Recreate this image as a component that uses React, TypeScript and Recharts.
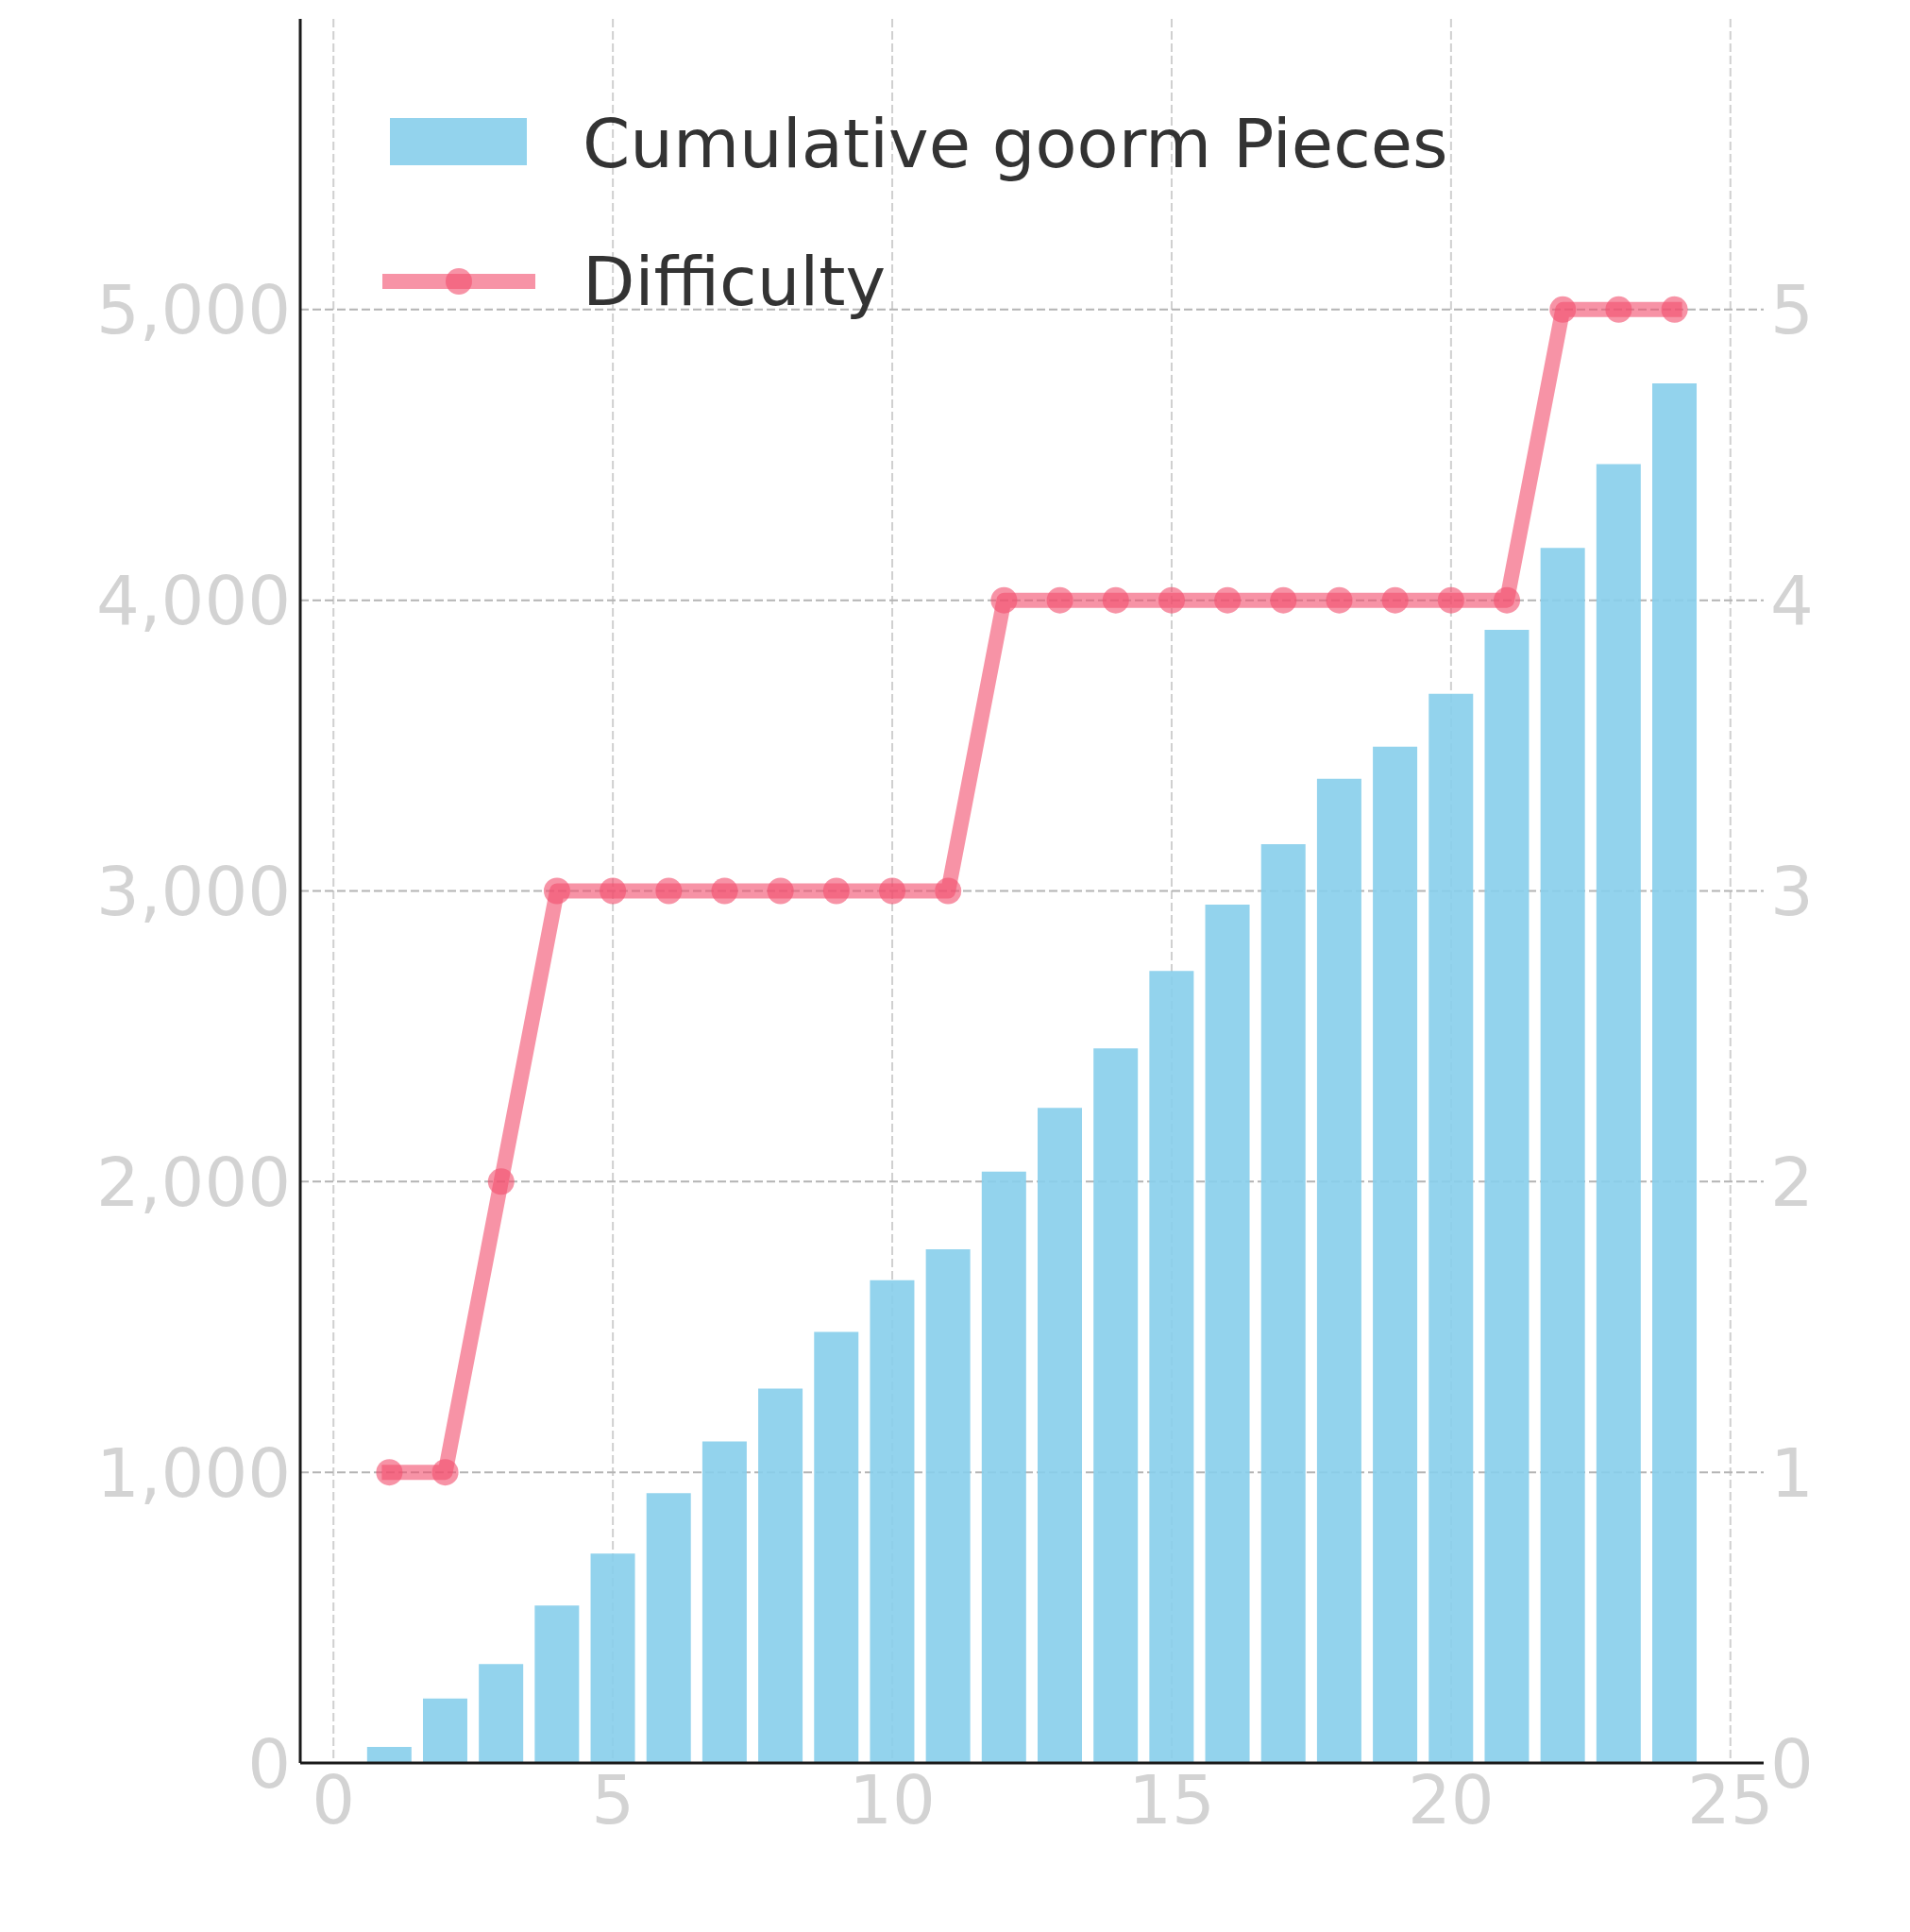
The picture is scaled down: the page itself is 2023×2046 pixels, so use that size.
import React from "react";
import {
  ComposedChart,
  Bar,
  Line,
  XAxis,
  YAxis,
  CartesianGrid,
  Legend,
} from "recharts";

const levels = [1, 2, 3, 4, 5, 6, 7, 8, 9, 10, 11, 12, 13, 14, 15, 16, 17, 18, 19, 20, 21, 22, 23, 24];
const cumulativePieces = [55, 222, 340, 542, 720, 928, 1106, 1288, 1483, 1661, 1767, 2034, 2254, 2458, 2725, 2953, 3161, 3386, 3496, 3678, 3898, 4180, 4468, 4746];
const difficulty = [1, 1, 2, 3, 3, 3, 3, 3, 3, 3, 3, 4, 4, 4, 4, 4, 4, 4, 4, 4, 4, 5, 5, 5];

const xTicks = [0, 5, 10, 15, 20, 25];
const leftTicks = [0, 1000, 2000, 3000, 4000, 5000];
const rightTicks = [0, 1, 2, 3, 4, 5];
const gridYValues = [1000, 2000, 3000, 4000, 5000];
const seriesNames = ["Cumulative goorm Pieces", "Difficulty"];

const data = levels.map((x, i) => ({
  x,
  pieces: cumulativePieces[i],
  difficulty: difficulty[i],
}));

const BAR_COLOR = "#87CEEB";
const BAR_OPACITY = 0.9;
const LINE_COLOR = "#F2506F";
const LINE_OPACITY = 0.62;
const FONT = "DejaVu Sans";
const tickStyle = { fill: "#d3d3d3", fontSize: 72, fontFamily: FONT };

const LegendContent = () => (
  <svg width={1600} height={360} style={{ display: "block" }}>
    <rect x={413} y={125} width={145} height={50} fill={BAR_COLOR} fillOpacity={BAR_OPACITY} />
    <line
      x1={413}
      x2={559}
      y1={298}
      y2={298}
      stroke={LINE_COLOR}
      strokeOpacity={LINE_OPACITY}
      strokeWidth={16}
      strokeLinecap="square"
    />
    <circle cx={486} cy={298} r={14} fill={LINE_COLOR} fillOpacity={LINE_OPACITY} />
    <text x={617} y={177} fontSize={72} fontFamily={FONT} fill="#333333">
      {seriesNames[0]}
    </text>
    <text x={617} y={323} fontSize={72} fontFamily={FONT} fill="#333333">
      {seriesNames[1]}
    </text>
  </svg>
);

export default function App() {
  return (
    <div style={{ position: "absolute", left: 0, top: 0, background: "#fff" }}>
      <ComposedChart
        width={2023}
        height={2046}
        data={data}
        margin={{ top: 20, right: 0, bottom: 0, left: 0 }}
      >
        <CartesianGrid
          xAxisId="x"
          yAxisId="left"
          horizontal={false}
          vertical={true}
          verticalValues={xTicks}
          stroke="#d0d0d0"
          strokeDasharray="9 4"
          strokeWidth={2}
        />
        <CartesianGrid
          xAxisId="x"
          yAxisId="left"
          horizontal={true}
          vertical={false}
          horizontalValues={gridYValues}
          stroke="#b4b4b4"
          strokeDasharray="9 4"
          strokeWidth={2}
        />
        <XAxis
          xAxisId="x"
          dataKey="x"
          type="number"
          domain={[-0.595, 25.595]}
          ticks={xTicks}
          allowDataOverflow
          height={179}
          tickLine={false}
          tickSize={0}
          tickMargin={13}
          axisLine={{ stroke: "#1a1a1a", strokeWidth: 3 }}
          tick={tickStyle}
          interval={0}
        />
        <YAxis
          yAxisId="left"
          domain={[0, 6000]}
          ticks={leftTicks}
          allowDataOverflow
          width={318}
          tickLine={false}
          tickSize={0}
          tickMargin={10}
          axisLine={{ stroke: "#1a1a1a", strokeWidth: 3 }}
          tick={tickStyle}
          interval={0}
          tickFormatter={(v: number) => v.toLocaleString("en-US")}
        />
        <YAxis
          yAxisId="right"
          orientation="right"
          domain={[0, 6]}
          ticks={rightTicks}
          allowDataOverflow
          width={155}
          tickLine={false}
          tickSize={0}
          tickMargin={7}
          axisLine={false}
          tick={tickStyle}
          interval={0}
        />
        <Bar
          xAxisId="x"
          yAxisId="left"
          dataKey="pieces"
          name={seriesNames[0]}
          barSize={47}
          fill={BAR_COLOR}
          fillOpacity={BAR_OPACITY}
          isAnimationActive={false}
        />
        <Line
          xAxisId="x"
          yAxisId="right"
          dataKey="difficulty"
          name={seriesNames[1]}
          type="linear"
          stroke={LINE_COLOR}
          strokeOpacity={LINE_OPACITY}
          strokeWidth={16}
          strokeLinecap="square"
          strokeLinejoin="round"
          dot={{ r: 14, fill: LINE_COLOR, fillOpacity: LINE_OPACITY, stroke: "none", strokeWidth: 0 }}
          activeDot={false}
          isAnimationActive={false}
        />
        <Legend
          layout="horizontal"
          verticalAlign="middle"
          align="center"
          content={<LegendContent />}
          wrapperStyle={{ left: 0, top: 0, width: 1600, height: 360 }}
        />
      </ComposedChart>
    </div>
  );
}
